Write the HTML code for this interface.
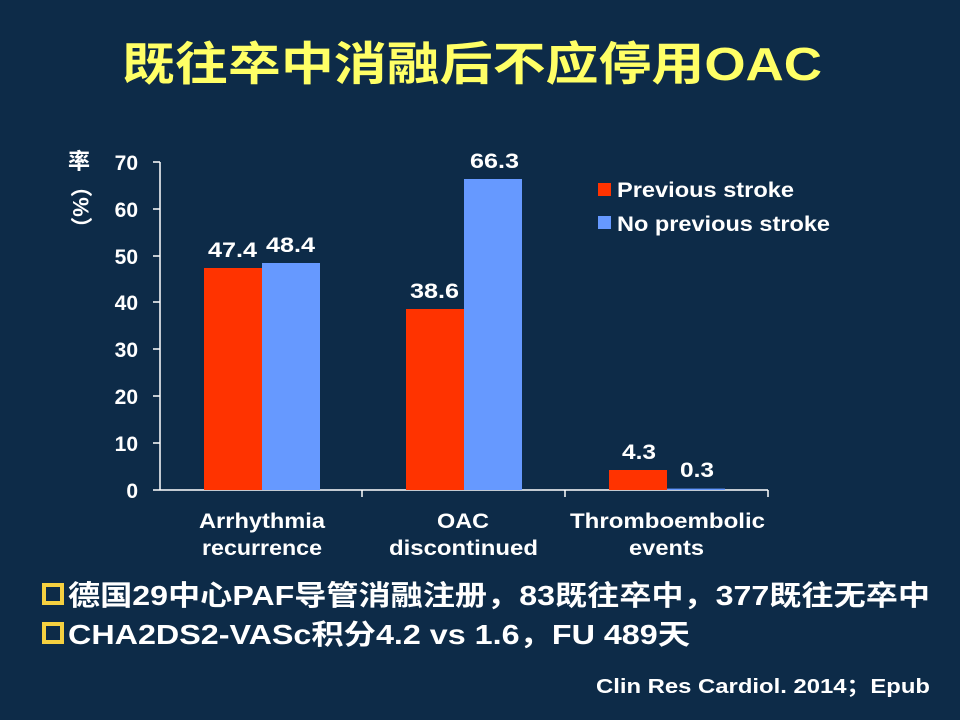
<!DOCTYPE html>
<html><head><meta charset="utf-8"><style>
body{margin:0;width:960px;height:720px;background:#0d2b48;overflow:hidden;font-family:"Liberation Sans","Noto Sans CJK SC",sans-serif;}
svg{position:absolute;left:0;top:0}
</style></head><body>
<svg width="960" height="720" xmlns="http://www.w3.org/2000/svg" font-family="Liberation Sans, Noto Sans CJK SC, sans-serif" font-weight="bold">
<text x="122" y="80" fill="#ffff66" font-size="46" textLength="700" lengthAdjust="spacingAndGlyphs">既往卒中消融后不应停用OAC</text>
<g stroke="#fff" stroke-width="1.5">
<line x1="160" y1="162" x2="160" y2="490"/>
<line x1="160" y1="490" x2="768" y2="490"/>
<line x1="153" y1="162" x2="160" y2="162"/><line x1="153" y1="209" x2="160" y2="209"/>
<line x1="153" y1="256" x2="160" y2="256"/><line x1="153" y1="302" x2="160" y2="302"/>
<line x1="153" y1="349" x2="160" y2="349"/><line x1="153" y1="396" x2="160" y2="396"/>
<line x1="153" y1="443" x2="160" y2="443"/><line x1="153" y1="490" x2="160" y2="490"/>
<line x1="362" y1="490" x2="362" y2="497"/><line x1="565" y1="490" x2="565" y2="497"/><line x1="768" y1="490" x2="768" y2="497"/>
</g>
<g fill="#fff" font-size="21" text-anchor="end">
<text x="138" y="170">70</text><text x="138" y="217">60</text><text x="138" y="264">50</text>
<text x="138" y="310">40</text><text x="138" y="357">30</text><text x="138" y="404">20</text>
<text x="138" y="451">10</text><text x="138" y="498">0</text>
</g>
<text x="79" y="169" fill="#fff" font-size="22" text-anchor="middle">率</text>
<text x="0" y="0" fill="#fff" font-size="22" text-anchor="middle" transform="translate(73,207) rotate(90)">（%）</text>
<rect x="204" y="268" width="58" height="222" fill="#ff3300"/>
<rect x="262" y="263" width="58" height="227" fill="#6699ff"/>
<rect x="406" y="309" width="58" height="181" fill="#ff3300"/>
<rect x="464" y="179" width="58" height="311" fill="#6699ff"/>
<rect x="609" y="470" width="58" height="20" fill="#ff3300"/>
<rect x="667" y="488.6" width="58" height="1.4" fill="#6699ff"/>
<g fill="#fff" font-size="21">
<text x="208" y="257" textLength="49" lengthAdjust="spacingAndGlyphs">47.4</text>
<text x="266" y="252" textLength="49" lengthAdjust="spacingAndGlyphs">48.4</text>
<text x="410" y="298" textLength="49" lengthAdjust="spacingAndGlyphs">38.6</text>
<text x="470" y="168" textLength="49" lengthAdjust="spacingAndGlyphs">66.3</text>
<text x="622" y="459" textLength="34" lengthAdjust="spacingAndGlyphs">4.3</text>
<text x="680" y="477" textLength="34" lengthAdjust="spacingAndGlyphs">0.3</text>
<text x="199" y="528" textLength="126" lengthAdjust="spacingAndGlyphs">Arrhythmia</text>
<text x="202" y="555" textLength="120" lengthAdjust="spacingAndGlyphs">recurrence</text>
<text x="437" y="528" textLength="52" lengthAdjust="spacingAndGlyphs">OAC</text>
<text x="389" y="555" textLength="149" lengthAdjust="spacingAndGlyphs">discontinued</text>
<text x="570" y="528" textLength="195" lengthAdjust="spacingAndGlyphs">Thromboembolic</text>
<text x="629" y="555" textLength="75" lengthAdjust="spacingAndGlyphs">events</text>
</g>
<rect x="598" y="183" width="13" height="13" fill="#ff3300"/>
<rect x="598" y="216" width="13" height="13" fill="#6699ff"/>
<g fill="#fff" font-size="21">
<text x="617" y="197" textLength="177" lengthAdjust="spacingAndGlyphs">Previous stroke</text>
<text x="617" y="231" textLength="213" lengthAdjust="spacingAndGlyphs">No previous stroke</text>
</g>
<g fill="none" stroke="#f5d040" stroke-width="4">
<rect x="44" y="585" width="18" height="18"/>
<rect x="44" y="624" width="18" height="18"/>
</g>
<g fill="#fff" font-size="28">
<text x="68" y="605" textLength="862" lengthAdjust="spacingAndGlyphs">德国29中心PAF导管消融注册，83既往卒中，377既往无卒中</text>
<text x="68" y="644" textLength="622" lengthAdjust="spacingAndGlyphs">CHA2DS2-VASc积分4.2 vs 1.6，FU 489天</text>
</g>
<text x="596" y="693" fill="#fff" font-size="20" textLength="334" lengthAdjust="spacingAndGlyphs">Clin Res Cardiol. 2014；Epub</text>
</svg>
</body></html>
